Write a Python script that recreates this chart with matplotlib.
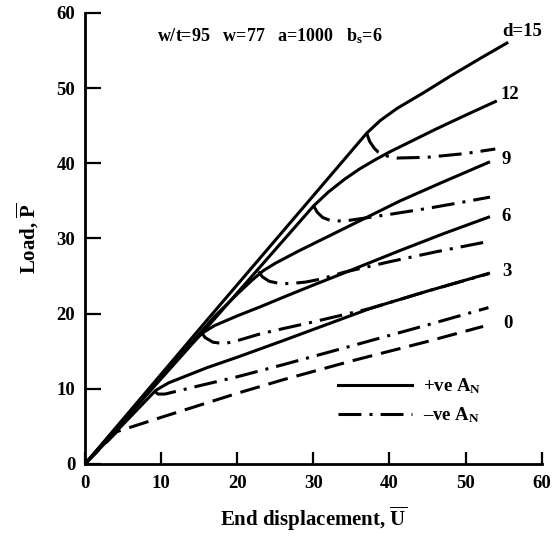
import matplotlib
matplotlib.use('Agg')
import matplotlib.pyplot as plt
from matplotlib.lines import Line2D

plt.rcParams['font.family'] = ['Liberation Serif', 'DejaVu Serif']
plt.rcParams['font.weight'] = 'bold'
plt.rcParams['mathtext.fontset'] = 'custom'
plt.rcParams['mathtext.rm'] = 'Liberation Serif:bold'
plt.rcParams['mathtext.it'] = 'Liberation Serif:bold'
plt.rcParams['mathtext.bf'] = 'Liberation Serif:bold'
plt.rcParams['lines.scale_dashes'] = False

# ---------------- data ----------------
# +ve A_N (solid) curves
pos_d15_x = [0, 16, 37, 38.8, 41, 44.5, 48, 52, 55.6]
pos_d15_y = [0, 19.1, 44.0, 45.7, 47.3, 49.4, 51.6, 54.0, 56.1]
pos_d12_x = [0, 17.1, 30, 32, 34, 36, 38, 40, 43, 46, 50, 54.1]
pos_d12_y = [0, 19.4, 34.3, 36.2, 37.8, 39.2, 40.4, 41.5, 43.0, 44.5, 46.4, 48.3]
pos_d9_x = [0, 17, 20, 22, 23.4, 25, 28, 32, 36, 41.4, 47, 53.2]
pos_d9_y = [0, 19.6, 22.6, 24.5, 25.7, 26.7, 28.3, 30.3, 32.3, 35.0, 37.5, 40.2]
pos_d6_x = [0, 13.5, 15.4, 17, 20, 23, 26.1, 30, 35, 41.4, 47, 53.2]
pos_d6_y = [0, 15.5, 17.4, 18.4, 19.7, 20.9, 22.2, 23.8, 25.8, 28.4, 30.6, 32.9]
pos_d3_x = [0, 9.3, 11, 13, 16, 20, 23, 26, 30, 37.5, 45, 53.2]
pos_d3_y = [0, 9.8, 10.8, 11.6, 12.8, 14.2, 15.3, 16.4, 17.9, 20.7, 23.0, 25.4]

# -ve A_N (dash-dot) curves
neg_d15_x = [37, 37.4, 38.0, 38.5, 39.5, 41, 45, 50, 53.9]
neg_d15_y = [44.0, 42.9, 42.0, 41.5, 41.0, 40.7, 40.8, 41.3, 41.9]
neg_d12_x = [30, 30.5, 31.2, 32.2, 34, 36, 40, 45, 50, 53.2]
neg_d12_y = [34.4, 33.5, 32.8, 32.4, 32.3, 32.6, 33.2, 34.0, 34.9, 35.5]
neg_d9_x = [22.8, 23.3, 24.2, 25.6, 27, 29, 31, 34, 40, 46, 53]
neg_d9_y = [25.6, 24.9, 24.3, 24.0, 24.0, 24.2, 24.6, 25.5, 26.9, 28.2, 29.6]
neg_d6_x = [15.2, 15.8, 16.8, 18.3, 20, 23, 26, 30, 37.5, 45, 53]
neg_d6_y = [17.6, 16.8, 16.2, 16.0, 16.4, 17.3, 18.0, 18.9, 20.7, 23.0, 25.3]
neg_d3_x = [9.1, 9.6, 10.5, 15, 20, 26, 35, 45, 53]
neg_d3_y = [9.7, 9.3, 9.3, 10.4, 11.6, 13.2, 15.7, 18.5, 20.8]

# d = 0 (dashed)
d0_x = [0, 4.2, 10, 15, 20, 26, 35, 45, 52.3]
d0_y = [0, 4.3, 6.2, 7.8, 9.4, 11.2, 13.7, 16.3, 18.3]

curve_labels = ['d=15', '12', '9', '6', '3', '0']
x_ticks = [0, 10, 20, 30, 40, 50, 60]
y_ticks = [0, 10, 20, 30, 40, 50, 60]
header = r'w/t=95   w=77   a=1000   b$_\mathregular{s}$=6'

# ---------------- figure ----------------
fig = plt.figure(figsize=(5.52, 5.37), dpi=100)
ax = fig.add_axes([0.154, 0.136, 0.8274, 0.8399])

LW = 2.2
DASHDOT = (0, (16.5, 5.8, 2.2, 5.8))
DASHED = (0, (14.5, 6.5))

pos_curves = [(pos_d15_x, pos_d15_y), (pos_d12_x, pos_d12_y), (pos_d9_x, pos_d9_y),
              (pos_d6_x, pos_d6_y), (pos_d3_x, pos_d3_y)]
neg_curves = [(neg_d15_x, neg_d15_y), (neg_d12_x, neg_d12_y), (neg_d9_x, neg_d9_y),
              (neg_d6_x, neg_d6_y), (neg_d3_x, neg_d3_y)]

for xs, ys in pos_curves:
    ax.plot(xs, ys, color='black', lw=LW, solid_capstyle='butt', solid_joinstyle='round')
for xs, ys in neg_curves:
    ax.plot(xs, ys, color='black', lw=LW, linestyle=DASHDOT, dash_capstyle='butt')
ax.plot(d0_x, d0_y, color='black', lw=LW, linestyle=DASHED, dash_capstyle='butt')

# curve labels at the right-hand ends
ends = [(pos_d15_x[-1], pos_d15_y[-1]), (pos_d12_x[-1], pos_d12_y[-1]),
        (pos_d9_x[-1], pos_d9_y[-1]), (pos_d6_x[-1], pos_d6_y[-1]),
        (pos_d3_x[-1], pos_d3_y[-1]), (d0_x[-1], d0_y[-1])]
offsets = [(-4, 7.5), (2.5, 4.5), (8.5, 1.5), (8.5, 0), (8.5, 1), (14.5, 2)]
for lab, (ex, ey), off in zip(curve_labels, ends, offsets):
    ax.annotate(lab, (ex, ey), xytext=off, textcoords='offset points',
                ha='left', va='center', fontsize=13.5, fontweight='bold')

ax.text(9.4, 56.9, header, ha='left', va='center', fontsize=13, fontweight='bold')

# legend
handles = [Line2D([], [], color='black', lw=LW),
           Line2D([], [], color='black', lw=LW, linestyle=DASHDOT, dash_capstyle='butt')]
leg = ax.legend(handles, [r'+ve A$_\mathregular{N}$', r'–ve A$_\mathregular{N}$'],
                loc='center left', bbox_to_anchor=(0.555, 0.14), frameon=False,
                fontsize=13.5, handlelength=3.9, handletextpad=0.6, labelspacing=0.5,
                borderpad=0, borderaxespad=0)

ax.set_xlim(0, 60)
ax.set_ylim(0, 60)
ax.set_xticks(x_ticks)
ax.set_yticks(y_ticks)
ax.spines['top'].set_visible(False)
ax.spines['right'].set_visible(False)
for s in ('left', 'bottom'):
    ax.spines[s].set_linewidth(2.0)
ax.tick_params(axis='y', direction='in', length=11.5, width=1.6, pad=7, labelsize=13.5)
ax.tick_params(axis='x', direction='in', length=9, width=1.6, pad=8, labelsize=13.5)
for t in ax.get_xticklabels() + ax.get_yticklabels():
    t.set_fontweight('bold')

ax.set_xlabel(r'End displacement, $\mathregular{\overline{U}}$', fontsize=15,
              fontweight='bold', labelpad=9)
ax.set_ylabel(r'Load, $\mathregular{\overline{P}}$', fontsize=15,
              fontweight='bold', labelpad=12)

fig.savefig('out.png', dpi=100)
